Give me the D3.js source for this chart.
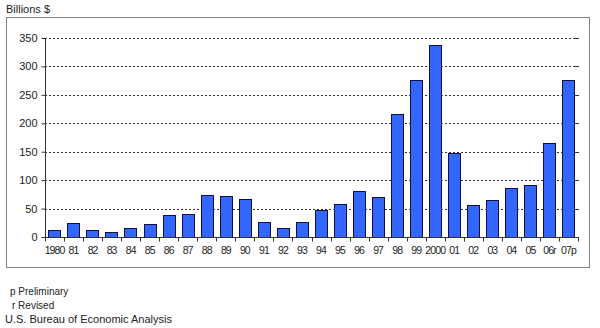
<!DOCTYPE html>
<html><head><meta charset="utf-8">
<script src="https://cdn.jsdelivr.net/npm/d3@7"></script>
<style>body{margin:0;background:#fff}svg{display:block}text{font-family:Arial,"Liberation Sans",sans-serif}</style>
</head><body><svg id="c" width="600" height="328"></svg>
<script>
const categories = ["1980","81","82","83","84","85","86","87","88","89","90","91","92","93","94","95","96","97","98","99","2000","01","02","03","04","05","06r","07p"];
const values = [13,24,12,8,15,23,39,40,73,72,67,26,15,26,47,58,81,71,216,276,337,148,56,65,87,92,166,277];
const yTicks = [0,50,100,150,200,250,300,350];
const footnotes = ["p Preliminary","r Revised"];
const source = "U.S. Bureau of Economic Analysis";

const svg = d3.select("#c");
const L = 45, R = 578, T = 38, B = 237;
const x = d3.scaleBand().domain(categories).range([L, R]).paddingInner(0.35).paddingOuter(0.175);
const y = d3.scaleLinear().domain([0, 350]).range([B, T]);

svg.append("rect").attr("x",6.5).attr("y",17.5).attr("width",583).attr("height",250)
  .attr("fill","#fff").attr("stroke","#808080").attr("stroke-width",1);

svg.append("text").attr("x",6).attr("y",13).attr("font-size",11).attr("fill","#222").text("Billions $");

// gridlines
svg.append("g").selectAll("line").data(yTicks.filter(d=>d>0)).join("line")
  .attr("x1",L).attr("x2",R).attr("y1",d=>Math.round(y(d))+0.5).attr("y2",d=>Math.round(y(d))+0.5)
  .attr("stroke","#333").attr("stroke-dasharray","2,2").attr("stroke-width",1);

// right-side ticks
svg.append("g").selectAll("line").data(yTicks).join("line")
  .attr("x1",R-3).attr("x2",R+1).attr("y1",d=>Math.round(y(d))+0.5).attr("y2",d=>Math.round(y(d))+0.5)
  .attr("stroke","#333");

// bars
svg.append("g").selectAll("rect").data(values).join("rect")
  .attr("x",(d,i)=>Math.round(x(categories[i]))+0.5)
  .attr("y",d=>Math.round(y(d))+0.5)
  .attr("width",Math.round(x.bandwidth()))
  .attr("height",d=>B-Math.round(y(d)))
  .attr("fill","#3366ff").attr("stroke","#101040").attr("stroke-width",1);

// y axis
const ya = svg.append("g").attr("transform",`translate(${L+0.5},0)`)
  .call(d3.axisLeft(y).tickValues(yTicks).tickSize(4).tickPadding(4));
ya.selectAll("text").attr("font-size",11).attr("fill","#222").style("font-family","Arial, 'Liberation Sans', sans-serif");
ya.selectAll("line,path").attr("stroke","#333");
ya.select("path").attr("d",`M-0,${B+0.5}V${T}`);

// x axis
const xg = svg.append("g").attr("transform",`translate(0,${B+0.5})`);
xg.append("line").attr("x1",L).attr("x2",R+1).attr("stroke","#333");
const step = x.step();
const bounds = d3.range(categories.length+1).map(i=>L + i*step);
xg.selectAll("line.t").data(bounds).join("line").attr("class","t")
  .attr("x1",d=>Math.round(d)+0.5).attr("x2",d=>Math.round(d)+0.5).attr("y1",0).attr("y2",4).attr("stroke","#333");
xg.selectAll("text").data(categories).join("text")
  .attr("x",d=>x(d)+x.bandwidth()/2).attr("y",16).attr("text-anchor","middle")
  .attr("font-size",10.5).attr("letter-spacing",-0.9).attr("fill","#222").text(d=>d);

svg.append("g").selectAll("text").data(footnotes).join("text")
  .attr("x",d=>d.startsWith("p")?10:12).attr("y",(d,i)=>295+i*14).attr("font-size",10).attr("fill","#222").text(d=>d);
svg.append("text").attr("x",5).attr("y",323).attr("font-size",11).attr("fill","#222").text(source);
</script></body></html>
